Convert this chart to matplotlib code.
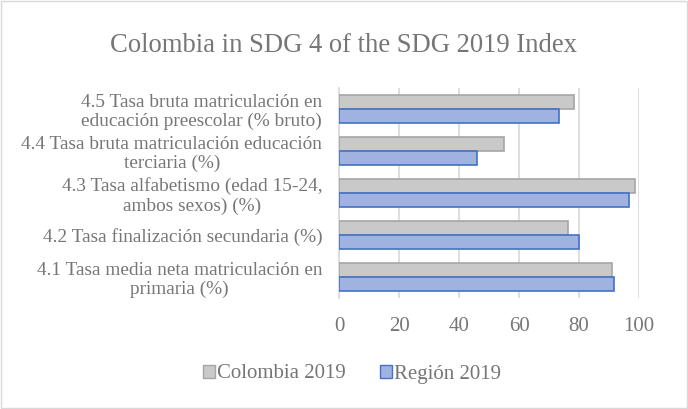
import matplotlib.pyplot as plt
import numpy as np
from matplotlib.patches import Rectangle

plt.rcParams['font.family'] = ['Liberation Serif', 'DejaVu Serif']

# data (bottom to top as drawn)
categories = [
    "4.1 Tasa media neta matriculación en\nprimaria (%)",
    "4.2 Tasa finalización secundaria (%)",
    "4.3 Tasa alfabetismo (edad 15-24,\nambos sexos) (%)",
    "4.4 Tasa bruta matriculación educación\nterciaria (%)",
    "4.5 Tasa bruta matriculación en\neducación preescolar (% bruto)",
]
colombia_2019 = [91.1, 76.2, 98.5, 55.1, 78.3]
region_2019 = [91.7, 80.0, 96.8, 46.1, 73.2]
series_names = ["Colombia 2019", "Región 2019"]

text_color = '#767676'
grid_color = '#d9d9d9'

fig = plt.figure(figsize=(6.88, 4.09), dpi=100)
ax = fig.add_axes([339 / 688, 1 - 298 / 409, 300 / 688, 210 / 409])

y = np.arange(len(categories))
h = 0.345
ax.barh(y + h / 2, colombia_2019, height=h, color='#c9c9c9', edgecolor='#a5a5a5', linewidth=1.2, zorder=3)
ax.barh(y - h / 2, region_2019, height=h, color='#9fb2e0', edgecolor='#4472c4', linewidth=1.2, zorder=3)

ax.set_xlim(0, 100)
ax.set_ylim(-0.5, len(categories) - 0.5)
ax.set_xticks(range(0, 101, 20))
ax.set_yticks(y)
ax.set_yticklabels(categories, multialignment='center', linespacing=1.15)
ax.tick_params(axis='both', length=0, colors=text_color)
ax.tick_params(axis='x', pad=14, labelsize=15)
ax.tick_params(axis='y', pad=12, labelsize=13.9)
ax.xaxis.grid(True, color=grid_color, linewidth=1.2, zorder=0)
for s in ['top', 'right', 'bottom']:
    ax.spines[s].set_visible(False)
ax.spines['left'].set_color(grid_color)
ax.spines['left'].set_linewidth(1.2)

fig.text(0.5, 1 - 45 / 409, "Colombia in SDG 4 of the SDG 2019 Index", ha='center', va='center',
         fontsize=19.2, color=text_color)

handles = [Rectangle((0, 0), 1, 1, facecolor='#c9c9c9', edgecolor='#a5a5a5'),
           Rectangle((0, 0), 1, 1, facecolor='#9fb2e0', edgecolor='#4472c4')]
fig.legend(handles, series_names, loc='center', bbox_to_anchor=(352 / 688, 1 - 374 / 409), ncol=2,
           frameon=False, fontsize=15, labelcolor=text_color, handlelength=0.6, handleheight=0.6,
           handletextpad=0.1, columnspacing=1.6)

fig.add_artist(Rectangle((0.002, 0.003), 0.996, 0.994, transform=fig.transFigure, fill=False,
                         edgecolor='#d9d9d9', linewidth=1))

fig.savefig('out.png', dpi=100)
